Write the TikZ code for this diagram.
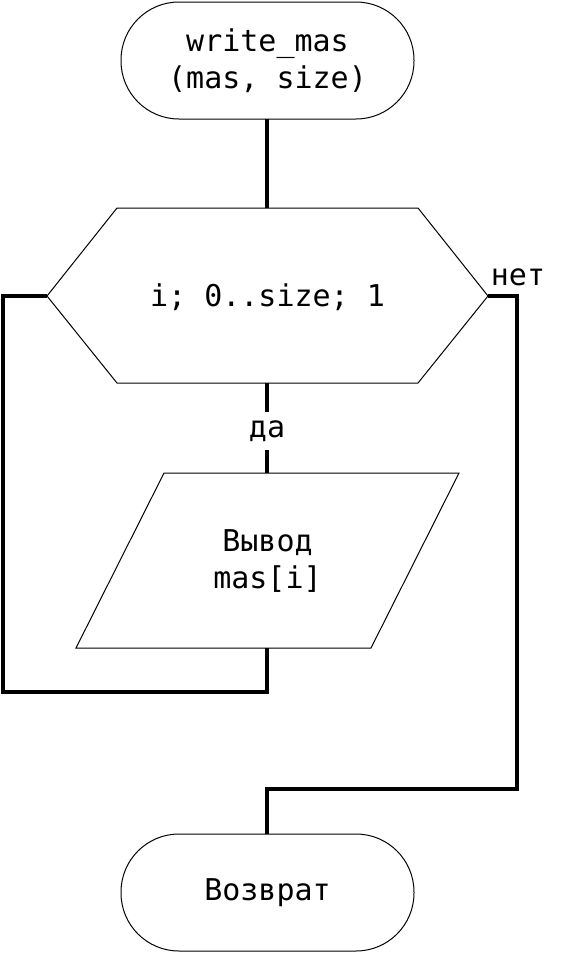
\documentclass[tikz,border=0pt]{standalone}
\usepackage{fontspec}
\setmonofont{DejaVu Sans Mono}
\begin{document}
\begin{tikzpicture}[x=1pt,y=-1pt,
  lbl/.style={font=\ttfamily\fontsize{30}{37}\selectfont, align=center, inner sep=0pt},
  shapeline/.style={draw=black, line width=1pt},
  flow/.style={draw=black, line width=3.5pt}]
\useasboundingbox (0,0) rectangle (563,953);
% top terminator
\draw[shapeline, rounded corners=58pt] (121,2) rectangle (414,119);
\node[lbl] (start) at (267.5,60.5) {write\_mas\\(mas, size)};
\coordinate (startB) at (267,119);
% loop hexagon
\coordinate (hL) at (47,296);
\coordinate (hTL) at (117,208);
\coordinate (hTR) at (418,208);
\coordinate (hR) at (488,296);
\coordinate (hBR) at (418,383);
\coordinate (hBL) at (117,383);
\coordinate (hT) at (267,208);
\coordinate (hB) at (267,383);
\draw[shapeline] (hL) -- (hTL) -- (hTR) -- (hR) -- (hBR) -- (hBL) -- cycle;
\node[lbl] (loop) at (267.5,297) {i; 0..size; 1};
% output parallelogram
\coordinate (pTL) at (164,473);
\coordinate (pTR) at (459,473);
\coordinate (pBR) at (371,648);
\coordinate (pBL) at (76,648);
\coordinate (pT) at (267,473);
\coordinate (pB) at (267,648);
\draw[shapeline] (pTL) -- (pTR) -- (pBR) -- (pBL) -- cycle;
\node[lbl] (out) at (267.5,561) {Вывод\\mas[i]};
% bottom terminator
\draw[shapeline, rounded corners=58pt] (121,834) rectangle (414,951);
\node[lbl] (ret) at (267.5,893) {Возврат};
\coordinate (rT) at (267,834);
% loop-back path coordinates
\coordinate (lA) at (267,692);
\coordinate (lB) at (3,692);
\coordinate (lC) at (3,296);
% exit path coordinates
\coordinate (eA) at (517,296);
\coordinate (eB) at (517,789);
\coordinate (eC) at (267,789);
% connectors
\draw[flow] (startB) -- (hT);
\draw[flow] (hB) -- (pT);
\node[lbl, fill=white, minimum height=38pt, inner xsep=2pt] (yes) at (267,431) {да};
\draw[flow] (pB) -- (lA) -- (lB) -- (lC) -- (hL);
\draw[flow] (hR) -- (eA) -- (eB) -- (eC) -- (rT);
\node[lbl, anchor=base] (no) at (518,285) {нет};
\end{tikzpicture}
\end{document}
